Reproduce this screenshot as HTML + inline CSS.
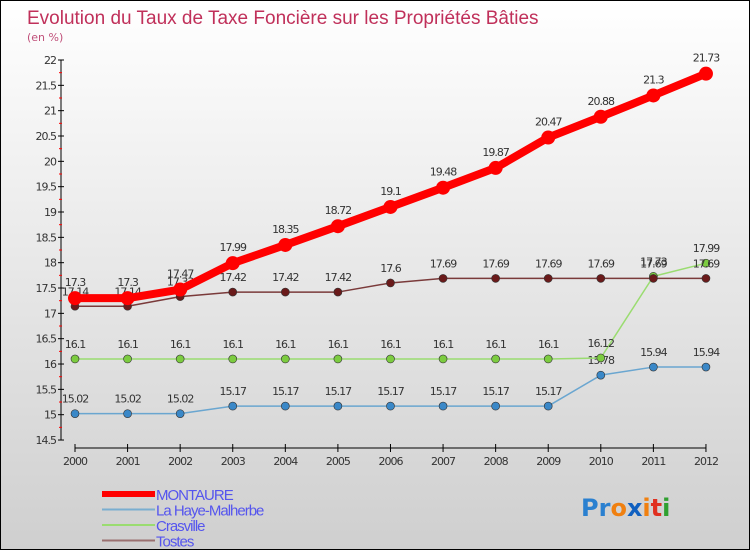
<!DOCTYPE html>
<html><head><meta charset="utf-8"><style>
body{margin:0}
#c{width:750px;height:550px;position:relative;box-sizing:border-box;border:1px solid #000;background:linear-gradient(#fff,#cfcfcf);font-family:"DejaVu Sans","Liberation Sans",sans-serif;overflow:hidden}
</style></head><body>
<div id="c">
<svg id="s" width="748" height="548" style="position:absolute;left:0;top:0">
<text x="26" y="23" font-size="19" font-family="Liberation Sans" fill="#c0305a">Evolution du Taux de Taxe Foncière sur les Propriétés Bâties</text>
<text x="26" y="40" font-size="11" fill="#c0507a">(en %)</text>
</svg>
</div>
<script>
const years=[2000,2001,2002,2003,2004,2005,2006,2007,2008,2009,2010,2011,2012];
const montaure=[17.3,17.3,17.47,17.99,18.35,18.72,19.1,19.48,19.87,20.47,20.88,21.3,21.73];
const haye=[15.02,15.02,15.02,15.17,15.17,15.17,15.17,15.17,15.17,15.17,15.78,15.94,15.94];
const crasville=[16.1,16.1,16.1,16.1,16.1,16.1,16.1,16.1,16.1,16.1,16.12,17.73,17.99];
const tostes=[17.14,17.14,17.33,17.42,17.42,17.42,17.6,17.69,17.69,17.69,17.69,17.69,17.69];
const yTicks=[14.5,15,15.5,16,16.5,17,17.5,18,18.5,19,19.5,20,20.5,21,21.5,22];
const seriesNames=["MONTAURE","La Haye-Malherbe","Crasville","Tostes"];
const NS="http://www.w3.org/2000/svg";
const s=document.getElementById('s');
function X(i){return 74+i*52.58;}
function Y(v){return 59+(22-v)*50.67;}
function el(t,a,p){const e=document.createElementNS(NS,t);for(const k in a)e.setAttribute(k,a[k]);(p||s).appendChild(e);return e;}
let ax=el('line',{x1:60,y1:Y(22),x2:60,y2:Y(14.5),stroke:'#000'});


let xa=el('line',{x1:X(0),y1:447,x2:X(12),y2:447,stroke:'#000'});


yTicks.forEach(v=>{
 el('line',{x1:57,y1:Y(v),x2:63,y2:Y(v),stroke:'#000'});
 if(v<22){el('line',{x1:58,y1:Y(v+0.25),x2:61,y2:Y(v+0.25),stroke:'#f00'});}
 const t=el('text',{x:55,y:Y(v)+4,'text-anchor':'end','font-size':11,fill:'#333','letter-spacing':'-1'});
 t.textContent=String(v);
 
 
});
years.forEach((y,i)=>{
 el('line',{x1:X(i),y1:443,x2:X(i),y2:451,stroke:'#000'});
 const t=el('text',{x:X(i),y:464,'text-anchor':'middle','font-size':11,fill:'#333','letter-spacing':'-1'});
 t.textContent=y;
 
 
});
function series(data,color,w,r,fill,name,labelOff){
 const g=el('g',{});
 
 
 el('polyline',{points:data.map((v,i)=>X(i)+','+Y(v)).join(' '),fill:'none',stroke:color,'stroke-width':w,'stroke-linejoin':'round'},g);
 data.forEach((v,i)=>{
  const c=el('circle',{cx:X(i),cy:Y(v),r:r,fill:fill,stroke:'#333','stroke-width':r>5?0:0.6},g);
  
  
  const t=el('text',{x:X(i),y:Y(v)-labelOff,'text-anchor':'middle','font-size':11,fill:'#333','letter-spacing':'-1'},g);
  t.textContent=String(v);
  
  
 });
}
series(haye,'#6aa6d0',1.5,4,'#3a88c8','la-haye-series',11);
series(crasville,'#9adc70',1.5,4,'#7ccc40','crasville-series',11);
series(tostes,'#7a3a3a',1.5,4,'#6a1a1a','tostes-series',11);
series(montaure,'#f00',8,7,'#f00','montaure-series',12);
const lc=['#f00','#7aaed0','#9adc70','#9a7070'],lw=[6,2,2,2];
seriesNames.forEach((n,i)=>{
 const y=493+i*15.5;
 const l=el('line',{x1:101,y1:y,x2:154,y2:y,stroke:lc[i],'stroke-width':lw[i]});
 
 
 const t=el('text',{x:155,y:y+6,'font-size':15,fill:'#5555ee','letter-spacing':'-1','font-family':'Liberation Sans'});
 t.textContent=n;
 
 
});
const p=el('text',{x:580,y:515,'font-size':24,'font-weight':'bold'});


[['P','#2a80d0'],['r','#2a80d0'],['o','#f08010'],['x','#1060c0'],['i','#f08010'],['t','#e03020'],['i','#30a030']].forEach(([c,f])=>{const ts=el('tspan',{fill:f},p);ts.textContent=c;});
</script>
</body></html>
